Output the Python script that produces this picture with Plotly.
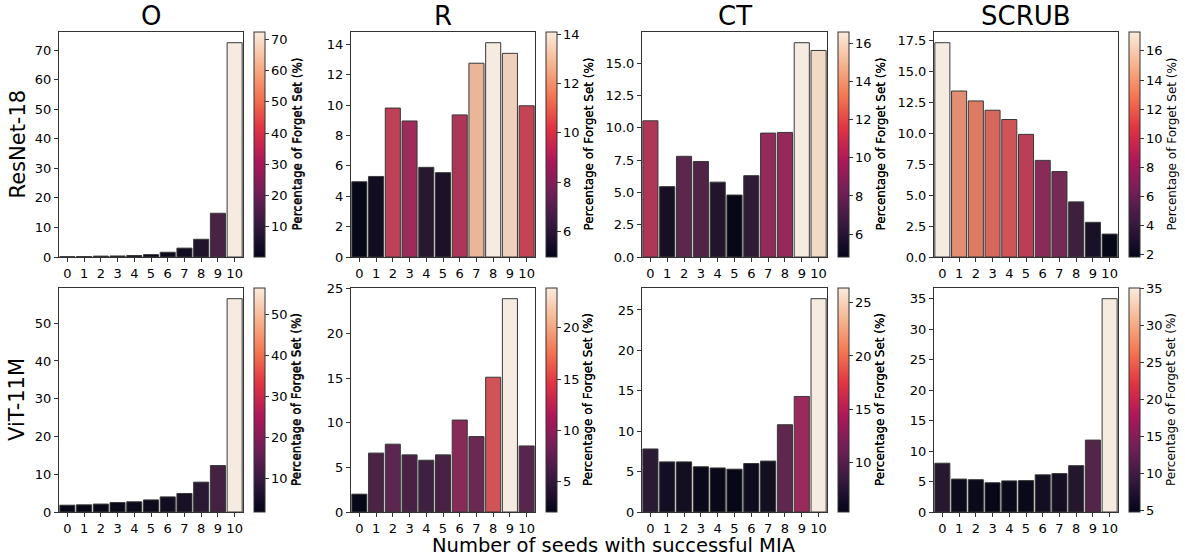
import colorsys
import plotly.graph_objects as go

seeds = [str(i) for i in range(11)]
methods = ["O", "R", "CT", "SCRUB"]
models = ["ResNet-18", "ViT-11M"]

# ResNet-18
r18_O = [0.1, 0.15, 0.3, 0.35, 0.5, 0.8, 1.6, 3.0, 6.0, 14.8, 72.5]
r18_R = [4.95, 5.3, 9.8, 8.95, 5.9, 5.55, 9.35, 12.75, 14.1, 13.4, 9.95]
r18_CT = [10.55, 5.45, 7.8, 7.4, 5.8, 4.8, 6.3, 9.6, 9.65, 16.6, 16.0]
r18_SCRUB = [17.3, 13.4, 12.6, 11.85, 11.1, 9.9, 7.8, 6.9, 4.45, 2.8, 1.85]
# ViT-11M
vit_O = [1.8, 1.9, 2.1, 2.5, 2.7, 3.2, 4.0, 4.9, 7.9, 12.3, 56.5]
vit_R = [2.0, 6.6, 7.6, 6.4, 5.8, 6.4, 10.3, 8.45, 15.1, 23.9, 7.4]
vit_CT = [7.8, 6.2, 6.2, 5.6, 5.45, 5.3, 6.0, 6.3, 10.8, 14.3, 26.4]
vit_SCRUB = [8.0, 5.4, 5.3, 4.8, 5.1, 5.15, 6.1, 6.3, 7.6, 11.8, 35.0]

data = [[r18_O, r18_R, r18_CT, r18_SCRUB], [vit_O, vit_R, vit_CT, vit_SCRUB]]
ytick_step = [[10, 2, 2.5, 2.5], [10, 5, 5, 5]]
cbar_step = [[10, 2, 2, 2], [10, 5, 5, 5]]

rocket = [
    [0.0, "#03051a"], [1/7, "#35193e"], [2/7, "#701f57"], [3/7, "#ad1759"],
    [4/7, "#e13342"], [5/7, "#f37651"], [6/7, "#f6b48f"], [1.0, "#faebdd"],
]


def desat(hexc, f=0.75):
    r, g, b = (int(hexc[i:i + 2], 16) / 255 for i in (1, 3, 5))
    h, l, s = colorsys.rgb_to_hls(r, g, b)
    r, g, b = colorsys.hls_to_rgb(h, l, s * f)
    return "#%02x%02x%02x" % (round(r * 255), round(g * 255), round(b * 255))


rocket_bar = [[p, desat(c)] for p, c in rocket]

W, H = 1185, 560
col_px = [(59, 243), (351, 535), (642, 827), (934, 1118)]
cbar_px = [254, 546, 838, 1129]
row_px = [(32, 257), (288, 512)]
font = "DejaVu Sans"
label = "Percentage of Forget Set (%)"
tick_size = 13

fig = go.Figure()
annotations = []
k = 0
for r in range(2):
    for c in range(4):
        k += 1
        vals = data[r][c]
        xa = "x" if k == 1 else f"x{k}"
        ya = "y" if k == 1 else f"y{k}"
        y0, y1 = row_px[r]
        ymid = 1 - (y0 + y1) / 2 / H
        fig.add_trace(go.Bar(
            x=list(range(11)), y=vals, xaxis=xa, yaxis=ya, width=0.9,
            marker=dict(
                color=vals, colorscale=rocket_bar, cmin=min(vals), cmax=max(vals),
                showscale=False,
                line=dict(color="#383838", width=1),
            ),
            showlegend=False, hoverinfo="x+y",
        ))
        # colorbar (undesaturated colormap, as in the reference)
        fig.add_trace(go.Scatter(
            x=[None, None], y=[None, None], xaxis=xa, yaxis=ya, mode="markers",
            showlegend=False, hoverinfo="skip",
            marker=dict(
                color=[min(vals), max(vals)], colorscale=rocket,
                cmin=min(vals), cmax=max(vals), showscale=True,
                colorbar=dict(
                    x=cbar_px[c] / W, xanchor="left", xref="paper",
                    y=ymid, yanchor="middle", len=(y1 - y0) / H, lenmode="fraction",
                    thickness=11, thicknessmode="pixels", xpad=0, ypad=0,
                    outlinewidth=1, outlinecolor="#333",
                    ticks="outside", ticklen=3.5, tickwidth=1, tickcolor="#333",
                    dtick=cbar_step[r][c], tick0=0,
                    tickfont=dict(size=tick_size, color="black", family=font),
                ),
            ),
        ))
        x0, x1 = col_px[c]
        axx = dict(
            domain=[x0 / W, x1 / W], anchor=ya, range=[-0.5, 10.5],
            tickmode="array", tickvals=list(range(11)), ticktext=seeds,
            showline=True, mirror=True, linecolor="#333", linewidth=1,
            ticks="outside", ticklen=4, tickcolor="#333",
            showgrid=False, zeroline=False, automargin=False,
            tickfont=dict(size=tick_size, color="black", family=font),
        )
        axy = dict(
            domain=[1 - y1 / H, 1 - y0 / H], anchor=xa, range=[0, max(vals) * 1.05],
            dtick=ytick_step[r][c], tick0=0,
            tickformat=".1f" if (r == 0 and c >= 2) else "",
            showline=True, mirror=True, linecolor="#333", linewidth=1,
            ticks="outside", ticklen=4, tickcolor="#333",
            showgrid=False, zeroline=False, automargin=False,
            tickfont=dict(size=tick_size, color="black", family=font),
        )
        fig.update_layout(**{("xaxis" if k == 1 else f"xaxis{k}"): axx,
                             ("yaxis" if k == 1 else f"yaxis{k}"): axy})
        if c > 0:
            annotations.append(dict(
                x=(x0 - 54) / W, y=ymid, xref="paper", yref="paper",
                text=label, textangle=-90, showarrow=False,
                xanchor="center", yanchor="middle",
                font=dict(size=12, color="black", family=font)))
        annotations.append(dict(
            x=(cbar_px[c] + 42) / W, y=ymid, xref="paper", yref="paper",
            text=label, textangle=-90, showarrow=False,
            xanchor="center", yanchor="middle",
            font=dict(size=12, color="black", family=font)))

for c, m in enumerate(methods):
    x0, x1 = col_px[c]
    annotations.append(dict(x=(x0 + x1) / 2 / W, y=1 - 16 / H, xref="paper", yref="paper",
                            text=m, showarrow=False, xanchor="center", yanchor="middle",
                            font=dict(size=26, color="black", family=font)))
for r, m in enumerate(models):
    y0, y1 = row_px[r]
    annotations.append(dict(x=17 / W, y=1 - (y0 + y1) / 2 / H, xref="paper", yref="paper",
                            text=m, textangle=-90, showarrow=False,
                            xanchor="center", yanchor="middle",
                            font=dict(size=21, color="black", family=font)))
annotations.append(dict(x=614 / W, y=1 - 545 / H, xref="paper", yref="paper",
                        text="Number of seeds with successful MIA", showarrow=False,
                        xanchor="center", yanchor="middle",
                        font=dict(size=19.5, color="black", family=font)))

fig.update_layout(
    width=W, height=H, margin=dict(l=0, r=0, t=0, b=0, autoexpand=False),
    paper_bgcolor="white", plot_bgcolor="white",
    annotations=annotations, bargap=0.1,
    font=dict(family=font, color="black"),
)
fig.write_html("out.html", config={"displayModeBar": False},
               post_script="document.body.style.margin='0';document.body.style.overflow='hidden';")
